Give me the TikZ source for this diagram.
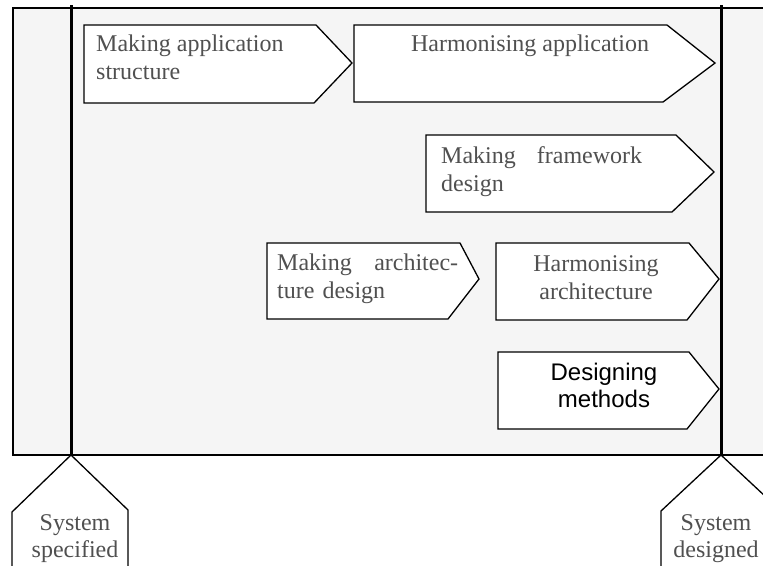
\documentclass[tikz,border=0pt]{standalone}
\usepackage{fontspec}
\setmainfont{Liberation Serif}
\setsansfont{Liberation Sans}
\usepackage{tikz}

\definecolor{framebg}{RGB}{245,245,245}
\definecolor{inkgray}{RGB}{80,80,80}

\tikzset{
  milestone/.style={line width=3pt},
  phasebox/.style={draw=black, line width=1.3pt, fill=white, line join=miter},
  phasetext/.style={inner sep=0pt, text=inkgray, font=\fontsize{24}{28}\selectfont},
  gatebox/.style={draw=black, line width=1.3pt, fill=white},
  gatetext/.style={inner sep=0pt, anchor=north, align=center, text=inkgray, font=\fontsize{24}{27}\selectfont}
}

\begin{document}
\begin{tikzpicture}[x=1pt,y=-1pt]
    \useasboundingbox (0,0) rectangle (763,565);
    \clip (0,0) rectangle (763,565);

    % Project frame, runs off to the right
    \draw[line width=2pt, fill=framebg] (13,8) rectangle (790,455);

    % Milestone lines
    \coordinate (specTop) at (71,5);
    \coordinate (specEnd) at (71,455);
    \coordinate (desTop) at (721,5);
    \coordinate (desEnd) at (721,455);
    \draw[milestone] (specTop) -- (specEnd);
    \draw[milestone] (desTop) -- (desEnd);

    % Phases
    \draw[phasebox] (84,25) -- (316,25) -- (352,63) -- (314,103) -- (84,103) -- cycle;
    \node[phasetext, anchor=north west, align=left] (structure) at (96,34.6)
        {Making application\\structure};

    \draw[phasebox] (354,25) -- (667,25) -- (715,63) -- (663,102) -- (354,102) -- cycle;
    \node[phasetext, anchor=base] (harmapp) at (530,51) {Harmonising application};

    \draw[phasebox] (426,135) -- (676,135) -- (714,172) -- (672,212) -- (426,212) -- cycle;
    \node[phasetext, anchor=north west, align=left, text width=201pt] (framework) at (441,146.6)
        {Making\hfill framework\\design};

    \draw[phasebox] (267,243) -- (460,243) -- (479,279) -- (448,319) -- (267,319) -- cycle;
    \node[phasetext, anchor=north west, align=left, text width=181pt] (archdesign) at (277,253.6)
        {Making\hfill architec-\\ture design};

    \draw[phasebox] (496,243) -- (689,243) -- (719,279) -- (687,320) -- (496,320) -- cycle;
    \node[phasetext, anchor=north, align=center] (harmarch) at (596,255.6)
        {Harmonising\\architecture};

    \draw[phasebox] (498,352) -- (689,352) -- (719,389) -- (687,429) -- (498,429) -- cycle;
    \node[inner sep=0pt, anchor=north, align=center, font=\sffamily\fontsize{24}{27}\selectfont] (methods)
        at (604,362.7) {Designing\\methods};

    % Milestones at the bottom
    \draw[gatebox] (specEnd) -- (128,510) -- (128,580) -- (12,580) -- (12,512) -- cycle;
    \node[gatetext] (specified) at (75,514.7) {System\\specified};

    \draw[gatebox] (desEnd) -- (781,511) -- (781,580) -- (661,580) -- (661,511) -- cycle;
    \node[gatetext] (designed) at (716,514.7) {System\\designed};
\end{tikzpicture}
\end{document}
